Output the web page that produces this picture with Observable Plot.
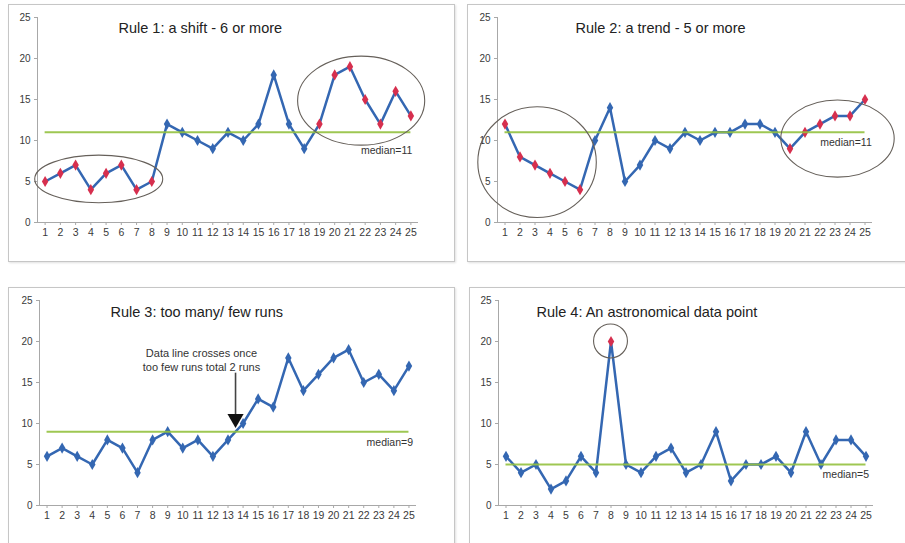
<!DOCTYPE html>
<html><head><meta charset="utf-8">
<script src="https://cdn.jsdelivr.net/npm/d3@7"></script>
<script src="https://cdn.jsdelivr.net/npm/@observablehq/plot@0.6"></script>
<style>
html,body{margin:0;padding:0;background:#fff;overflow:hidden;width:905px;height:543px;}
.frame{position:absolute;border:1px solid #c6c6c6;box-sizing:border-box;box-shadow:1px 1px 2px rgba(0,0,0,0.12);}
.panel{position:absolute;}
.panel svg{overflow:visible;background:transparent;max-width:none !important;}
</style></head><body>
<script>
// ---- data ----
const positions = [1,2,3,4,5,6,7,8,9,10,11,12,13,14,15,16,17,18,19,20,21,22,23,24,25];
const yTicks = [0,5,10,15,20,25];

const rule1Values = [5,6,7,4,6,7,4,5,12,11,10,9,11,10,12,18,12,9,12,18,19,15,12,16,13];
const rule1Flagged = [1,2,3,4,5,6,7,8,19,20,21,22,23,24,25];
const rule1Median = 11;

const rule2Values = [12,8,7,6,5,4,10,14,5,7,10,9,11,10,11,11,12,12,11,9,11,12,13,13,15];
const rule2Flagged = [1,2,3,4,5,6,20,21,22,23,24,25];
const rule2Median = 11;

const rule3Values = [6,7,6,5,8,7,4,8,9,7,8,6,8,10,13,12,18,14,16,18,19,15,16,14,17];
const rule3Flagged = [];
const rule3Median = 9;

const rule4Values = [6,4,5,2,3,6,4,20,5,4,6,7,4,5,9,3,5,5,6,4,9,5,8,8,6];
const rule4Flagged = [8];
const rule4Median = 5;

const titles = ["Rule 1: a shift - 6 or more","Rule 2: a trend - 5 or more","Rule 3: too many/ few runs","Rule 4: An astronomical data point"];
const medianLabels = ["median=11","median=11","median=9","median=5"];
const rule3Note = "Data line crosses once\ntoo few runs total 2 runs";

// annotation ellipses (centre x, centre y, radius x, radius y) in data units
const rule1Ellipses = [{cx:4.55, cy:5.25, rx:4.2, ry:2.9},{cx:21.77, cy:14.8, rx:4.17, ry:5.43}];
const rule2Ellipses = [{cx:3.17, cy:7.3, rx:3.95, ry:6.75},{cx:23.2, cy:10.17, rx:3.78, ry:4.7}];
const rule3Ellipses = [];
const rule4Ellipses = [{cx:8, cy:20, rx:1.13, ry:2.07}];

// ---- styling ----
const BLUE = "#3467b2", RED = "#d62f4e", GREEN = "#93c13f", FONT = "'Liberation Sans', Arial, sans-serif";

function ellipseMark(list) {
  return (index, scales) => {
    const g = d3.create("svg:g");
    for (const e of list) {
      const cx = scales.x(e.cx), cy = scales.y(e.cy);
      const rx = Math.abs(scales.x(e.cx + e.rx) - cx), ry = Math.abs(scales.y(e.cy + e.ry) - cy);
      g.append("ellipse").attr("cx", cx).attr("cy", cy).attr("rx", rx).attr("ry", ry)
        .attr("fill", "none").attr("stroke", "#66605a").attr("stroke-width", 1.1);
    }
    return g.node();
  };
}

function panel(cfg) {
  const data = positions.map((p, i) => ({x: p, y: cfg.values[i], flag: cfg.flagged.includes(p)}));
  const marks = [
    Plot.ruleX([0.5], {y1: 0, y2: 25, stroke: "#a8a8a8"}),
    Plot.ruleY([0], {x1: 0.5, x2: 25.5, stroke: "#a8a8a8"}),
    Plot.axisY({ticks: yTicks, tickSize: 3, tickPadding: 4, fontSize: 10, label: null, stroke: "#a8a8a8"}),
    Plot.axisX({ticks: positions, tickSize: 3, tickPadding: 3, fontSize: 10.5, label: null, stroke: "#a8a8a8", tickFormat: d => String(d)}),
    Plot.line(data, {x: "x", y: "y", stroke: BLUE, strokeWidth: 2.5}),
    Plot.dot(data, {x: "x", y: "y", symbol: "diamond", r: 3.4, fill: d => d.flag ? RED : BLUE, stroke: "none"}),
    Plot.ruleY([cfg.median], {x1: 1, x2: 25, stroke: GREEN, strokeWidth: 2, strokeOpacity: 0.9}),
    Plot.text([cfg.medianLabel], {x: cfg.labelX, y: cfg.median, dy: cfg.labelDy, textAnchor: "end", fontSize: 10.5, fill: "#333"}),
    Plot.text([cfg.title], {frameAnchor: "top-left", dx: cfg.titleDx, dy: cfg.titleDy, lineAnchor: "middle", textAnchor: "start", fontSize: 14.5, fill: "#222"}),
    ellipseMark(cfg.ellipses)
  ];
  if (cfg.extra) marks.push(...cfg.extra);
  const svg = Plot.plot({
    width: cfg.width, height: cfg.height,
    marginLeft: cfg.ml, marginRight: cfg.mr, marginTop: cfg.mt, marginBottom: cfg.mb,
    style: {fontFamily: FONT, color: "#3a3a3a", background: "transparent", overflow: "visible", maxWidth: "none"},
    x: {domain: [0.5, 25.5]},
    y: {domain: [0, 25]},
    marks
  });
  svg.style.maxWidth = "none";
  svg.style.width = cfg.width + "px";
  svg.style.height = cfg.height + "px";
  const frame = document.createElement("div");
  frame.className = "frame";
  Object.assign(frame.style, {left: cfg.left + "px", top: cfg.top + "px", width: cfg.width + "px", height: cfg.height + "px"});
  document.body.appendChild(frame);
  const wrap = document.createElement("div");
  wrap.className = "panel";
  Object.assign(wrap.style, {left: cfg.left + "px", top: cfg.top + "px", width: cfg.width + "px", height: cfg.height + "px"});
  wrap.appendChild(svg);
  document.body.appendChild(wrap);
}

panel({left: 8, top: 4, width: 447, height: 258, ml: 29, mr: 37, mt: 13, mb: 40,
  values: rule1Values, flagged: rule1Flagged, median: rule1Median, medianLabel: medianLabels[0],
  labelX: 25.1, labelDy: 18, title: titles[0], titleDx: 81, titleDy: 11, ellipses: rule1Ellipses});

panel({left: 467, top: 4, width: 445, height: 258, ml: 30, mr: 40, mt: 13, mb: 40,
  values: rule2Values, flagged: rule2Flagged, median: rule2Median, medianLabel: medianLabels[1],
  labelX: 25.45, labelDy: 10, title: titles[1], titleDx: 78, titleDy: 11, ellipses: rule2Ellipses});

panel({left: 8, top: 287, width: 447, height: 258, ml: 31, mr: 39, mt: 13, mb: 40,
  values: rule3Values, flagged: rule3Flagged, median: rule3Median, medianLabel: medianLabels[2],
  labelX: 25.27, labelDy: 11, title: titles[2], titleDx: 71, titleDy: 11.7, ellipses: rule3Ellipses,
  extra: [
    Plot.text([rule3Note], {x: 11.24, y: 17.75, fontSize: 11, lineHeight: 1.25, fill: "#333"}),
    Plot.link([{x: 13.5}], {x1: "x", x2: "x", y1: 16.2, y2: 10.9, stroke: "#444", strokeWidth: 1.6}),
    Plot.dot([{x: 13.5}], {x: "x", y: 10.6, symbol: "triangle", r: 6, rotate: 180, fill: "#111", stroke: "none"})
  ]});

panel({left: 469, top: 287, width: 445, height: 258, ml: 29, mr: 41, mt: 13, mb: 40,
  values: rule4Values, flagged: rule4Flagged, median: rule4Median, medianLabel: medianLabels[3],
  labelX: 25.2, labelDy: 10, title: titles[3], titleDx: 38, titleDy: 11.7, ellipses: rule4Ellipses});
</script>
</body></html>
